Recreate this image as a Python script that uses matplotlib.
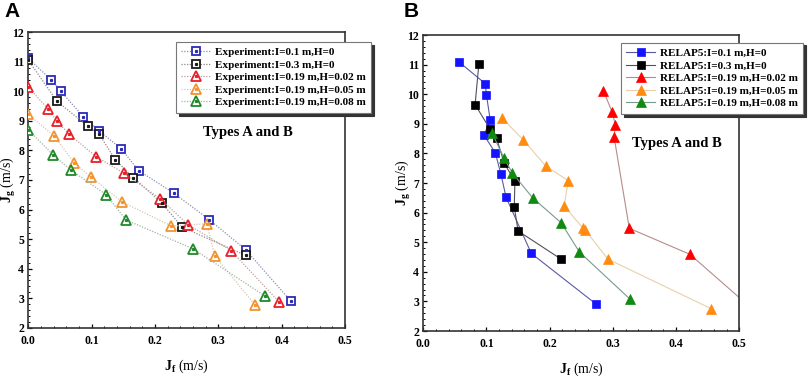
import matplotlib
matplotlib.use("Agg")
import matplotlib.pyplot as plt
from matplotlib.ticker import MultipleLocator
from matplotlib.legend_handler import HandlerTuple

plt.rcParams['font.family'] = 'Liberation Serif'
plt.rcParams['font.weight'] = 'bold'
plt.rcParams['mathtext.fontset'] = 'custom'
plt.rcParams['mathtext.rm'] = 'Liberation Serif:bold'
plt.rcParams['mathtext.bf'] = 'Liberation Serif:bold'
plt.rcParams['mathtext.it'] = 'Liberation Serif:bold'

# ---- Panel A: experiment ----
labels_a = ['Experiment:I=0.1 m,H=0', 'Experiment:I=0.3 m,H=0',
            'Experiment:I=0.19 m,H=0.02 m', 'Experiment:I=0.19 m,H=0.05 m',
            'Experiment:I=0.19 m,H=0.08 m']
exp1_x = [0.0, 0.036, 0.051, 0.087, 0.112, 0.147, 0.174, 0.230, 0.286, 0.343, 0.414]
exp1_y = [11.12, 10.39, 10.01, 9.14, 8.66, 8.05, 7.32, 6.55, 5.65, 4.64, 2.91]
exp2_x = [0.0, 0.045, 0.094, 0.112, 0.137, 0.166, 0.211, 0.243, 0.343]
exp2_y = [11.06, 9.67, 8.82, 8.55, 7.69, 7.08, 6.21, 5.40, 4.45]
exp3_x = [0.0, 0.031, 0.045, 0.064, 0.107, 0.151, 0.208, 0.252, 0.320, 0.396]
exp3_y = [10.14, 9.41, 9.00, 8.56, 7.79, 7.23, 6.37, 5.49, 4.61, 2.87]
exp4_x = [0.0, 0.041, 0.072, 0.099, 0.148, 0.226, 0.282, 0.294, 0.358]
exp4_y = [9.22, 8.49, 7.59, 7.09, 6.26, 5.44, 5.52, 4.44, 2.77]
exp5_x = [0.0, 0.039, 0.067, 0.123, 0.154, 0.260, 0.373]
exp5_y = [8.70, 7.85, 7.34, 6.50, 5.65, 4.67, 3.08]

# ---- Panel B: RELAP5 ----
labels_b = ['RELAP5:I=0.1 m,H=0', 'RELAP5:I=0.3 m,H=0',
            'RELAP5:I=0.19 m,H=0.02 m', 'RELAP5:I=0.19 m,H=0.05 m',
            'RELAP5:I=0.19 m,H=0.08 m']
rel1_x = [0.056, 0.098, 0.100, 0.106, 0.096, 0.114, 0.123, 0.131, 0.171, 0.274]
rel1_y = [11.10, 10.36, 9.97, 9.12, 8.62, 8.02, 7.29, 6.52, 4.62, 2.90]
rel2_x = [0.088, 0.082, 0.106, 0.116, 0.128, 0.145, 0.144, 0.150, 0.218]
rel2_y = [11.03, 9.65, 8.81, 8.52, 7.67, 7.06, 6.20, 5.38, 4.43]
rel3_x = [0.285, 0.299, 0.304, 0.302, 0.326, 0.422, 0.515]
rel3_y = [10.12, 9.39, 8.96, 8.55, 5.47, 4.59, 2.85]
rel4_x = [0.1245, 0.158, 0.194, 0.2295, 0.223, 0.252, 0.256, 0.292, 0.456]
rel4_y = [9.20, 8.46, 7.57, 7.08, 6.23, 5.49, 5.42, 4.43, 2.75]
rel5_x = [0.109, 0.128, 0.141, 0.173, 0.218, 0.247, 0.327]
rel5_y = [8.68, 7.83, 7.34, 6.50, 5.66, 4.67, 3.08]

mk_colors_a = ['#2b2bb8', '#1a1a1a', '#e8202a', '#f29330', '#1f8a2a']
ln_colors_a = ['#8e8eb8', '#8c8c8c', '#bfa0a0', '#d8c8b0', '#a0b4a0']
mk_colors_b = ['#1414ff', '#000000', '#ff0000', '#ff8c10', '#108a10']
ln_colors_b = ['#5a5aa0', '#505060', '#b88a8a', '#e8d0a8', '#7a9a8a']
markers = ['s', 's', '^', '^', '^']

fig = plt.figure(figsize=(8.09, 3.79), dpi=100)
axA = fig.add_axes([0.035, 0.1354, 0.3915, 0.7794])
axB = fig.add_axes([0.5232, 0.1266, 0.3906, 0.781])

handles = []
for xs, ys, mc, lc, m in zip([exp1_x, exp2_x, exp3_x, exp4_x, exp5_x],
                             [exp1_y, exp2_y, exp3_y, exp4_y, exp5_y],
                             mk_colors_a, ln_colors_a, markers):
    ms = 6 if m == 's' else 7.5
    l1, = axA.plot(xs, ys, color=lc, linestyle=(0, (1, 1.2)), linewidth=0.9,
                   marker=m, markersize=ms, markerfacecolor='white',
                   markeredgecolor=mc, markeredgewidth=1.3, zorder=3)
    l2, = axA.plot(xs, ys, linestyle='none', marker='s', markersize=1.3,
                   color=mc, zorder=4)
    handles.append((l1, l2))

legA = axA.legend(handles, labels_a, handler_map={tuple: HandlerTuple(ndivide=1)},
                  loc='upper left', bbox_to_anchor=(0.466, 0.968), borderaxespad=0,
                  fontsize=8, fancybox=False, edgecolor='#777777', framealpha=1,
                  shadow={'color': '#333333', 'alpha': 1}, labelspacing=0.25,
                  handlelength=2.6, handletextpad=0.4, borderpad=0.5,
                  numpoints=1)
legA.get_frame().set_linewidth(0.8)
axA.text(0.553, 0.65, 'Types A and B', transform=axA.transAxes, fontsize=10.5,
         fontweight='bold')

for xs, ys, mc, lc, m in zip([rel1_x, rel2_x, rel3_x, rel4_x, rel5_x],
                             [rel1_y, rel2_y, rel3_y, rel4_y, rel5_y],
                             mk_colors_b, ln_colors_b, markers):
    ms = 6 if m == 's' else 6.5
    axB.plot(xs, ys, color=lc, linewidth=0.8, marker=m, markersize=ms,
             markerfacecolor=mc, markeredgecolor=mc, markeredgewidth=0.5)

legB = axB.legend(labels_b, loc='upper left', bbox_to_anchor=(0.625, 0.974),
                  borderaxespad=0, fontsize=8, fancybox=False,
                  edgecolor='#777777', framealpha=1,
                  shadow={'color': '#333333', 'alpha': 1}, labelspacing=0.25,
                  handlelength=2.6, handletextpad=0.4, borderpad=0.5,
                  numpoints=1)
legB.get_frame().set_linewidth(0.8)
axB.text(0.66, 0.62, 'Types A and B', transform=axB.transAxes, fontsize=10.5,
         fontweight='bold')

label_pos = {axA: (-0.062, -0.103), axB: (-0.061, -0.1)}
for ax in (axA, axB):
    ax.set_xlim(0, 0.5)
    ax.set_ylim(2, 12)
    ax.xaxis.set_major_locator(MultipleLocator(0.1))
    ax.xaxis.set_minor_locator(MultipleLocator(0.02))
    ax.yaxis.set_major_locator(MultipleLocator(1))
    ax.yaxis.set_minor_locator(MultipleLocator(0.2))
    ax.tick_params(which='both', direction='in', labelsize=8.5, top=False, right=False)
    ax.tick_params(which='major', length=3, width=0.9)
    ax.tick_params(which='minor', length=1.5, width=0.7)
    ax.tick_params(axis='x', pad=5)
    ax.tick_params(axis='y', pad=3)
    for s in ax.spines.values():
        s.set_linewidth(1.2)
        s.set_color('#333333')
    ax.set_xlabel(r'$\mathbf{J_f}$ (m/s)', fontsize=10)
    ax.set_ylabel(r'$\mathbf{J_g}$ (m/s)', fontsize=10, va='center')
    yx, xy = label_pos[ax]
    ax.yaxis.set_label_coords(yx, 0.5)
    ax.xaxis.set_label_coords(0.5, xy)

fig.text(0.006, 0.955, 'A', fontsize=15, fontweight='bold', family='Liberation Sans')
fig.text(0.499, 0.955, 'B', fontsize=15, fontweight='bold', family='Liberation Sans')

fig.savefig('out.png', dpi=100)
